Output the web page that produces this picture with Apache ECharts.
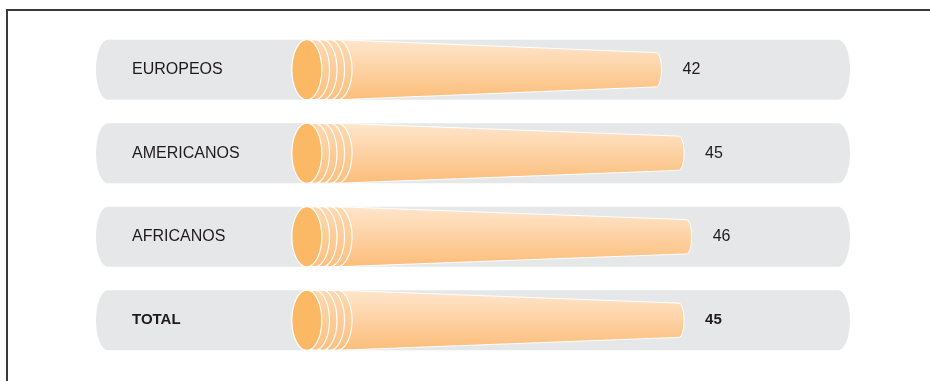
<!DOCTYPE html>
<html>
<head>
<meta charset="utf-8">
<script src="https://cdn.jsdelivr.net/npm/echarts@6/dist/echarts.min.js"></script>
<style>
  html, body { margin: 0; padding: 0; background: #ffffff; }
  #chart { width: 930px; height: 381px; }
</style>
</head>
<body>
<div id="chart"></div>
<script>
// Categories and their values
const categories = ['EUROPEOS', 'AMERICANOS', 'AFRICANOS', 'TOTAL'];
const values = [42, 45, 46, 45];
const boldCategory = 'TOTAL';

const FONT = '"Liberation Sans", Arial, Helvetica, sans-serif';
const PILL = '#e6e7e8';
const FRONT = '#fbb966';

function coneGradient() {
  return new echarts.graphic.LinearGradient(0, 0, 0, 1, [
    { offset: 0, color: '#fee6cd' },
    { offset: 1, color: '#fcbd79' }
  ]);
}

function ringGradient() {
  return new echarts.graphic.LinearGradient(0, 0, 0, 1, [
    { offset: 0, color: '#fdd9b1' },
    { offset: 1, color: '#fcc07f' }
  ]);
}

function renderRow(params, api) {
  const idx = api.value(1);
  const val = api.value(0);
  const cs = params.coordSys;
  const origin = api.coord([0, idx]);
  const end = api.coord([val, idx]);
  const cy = origin[1];
  const x0 = origin[0];
  const xe = end[0];
  const band = api.size([0, 1])[1];
  const ry = band * 0.36;          // half height of the row
  const tipR = ry * 0.57;          // half height at the narrow end
  const name = categories[idx];
  const bold = name === boldCategory;

  // grey rounded background
  const xl = cs.x, xr = cs.x + cs.width, er = 12;
  const pillPath =
    'M' + (xl + er) + ',' + (cy - ry) +
    ' L' + (xr - er) + ',' + (cy - ry) +
    ' A' + er + ',' + ry + ' 0 0 1 ' + (xr - er) + ',' + (cy + ry) +
    ' L' + (xl + er) + ',' + (cy + ry) +
    ' A' + er + ',' + ry + ' 0 0 1 ' + (xl + er) + ',' + (cy - ry) + ' Z';

  const children = [
    { type: 'path', shape: { pathData: pillPath }, style: { fill: PILL } },
    {
      type: 'text',
      style: {
        x: xl + 36, y: cy, text: name,
        fill: '#1f1b1c',
        font: (bold ? 'bold 15px ' : '16px ') + FONT,
        textAlign: 'left', textVerticalAlign: 'middle'
      }
    }
  ];

  // tapered cone body
  const bodyStart = x0 - 8;
  const capR = 5;
  const conePath =
    'M' + bodyStart + ',' + (cy - ry) +
    ' L' + (xe - capR) + ',' + (cy - tipR) +
    ' A' + capR + ',' + tipR + ' 0 0 1 ' + (xe - capR) + ',' + (cy + tipR) +
    ' L' + bodyStart + ',' + (cy + ry) + ' Z';
  children.push({
    type: 'path', shape: { pathData: conePath },
    style: { fill: coneGradient(), stroke: '#ffffff', lineWidth: 1 }
  });

  // rings behind the front face, back to front
  const ringOffsets = [-7.8, -15.3, -22.8, -30.3];
  ringOffsets.forEach(function (off) {
    children.push({
      type: 'ellipse',
      shape: { cx: x0 + off, cy: cy, rx: 15, ry: ry },
      style: { fill: ringGradient(), stroke: '#ffffff', lineWidth: 1.2 }
    });
  });
  // front face
  children.push({
    type: 'ellipse',
    shape: { cx: x0 - 38, cy: cy, rx: 15, ry: ry },
    style: { fill: FRONT, stroke: '#ffffff', lineWidth: 1.2 }
  });

  // value label
  children.push({
    type: 'text',
    style: {
      x: xe + 21, y: cy, text: String(val),
      fill: '#1f1b1c',
      font: (bold ? 'bold 15px ' : '16px ') + FONT,
      textAlign: 'left', textVerticalAlign: 'middle'
    }
  });

  return { type: 'group', children: children };
}

const chart = echarts.init(document.getElementById('chart'), null, { renderer: 'canvas' });
chart.setOption({
  animation: false,
  backgroundColor: '#ffffff',
  grid: { left: 96, right: 80, top: 28, bottom: 19 },
  xAxis: {
    type: 'value', min: -33, max: 67,
    show: false
  },
  yAxis: {
    type: 'category', data: categories, inverse: true,
    show: false
  },
  graphic: [{
    type: 'rect',
    shape: { x: 7, y: 10, width: 1000, height: 1000 },
    style: { fill: 'none', stroke: '#3a3a3a', lineWidth: 2 },
    silent: true
  }],
  series: [{
    type: 'custom',
    renderItem: renderRow,
    encode: { x: 0, y: 1 },
    data: values.map(function (v, i) { return [v, i]; })
  }]
});
</script>
</body>
</html>
